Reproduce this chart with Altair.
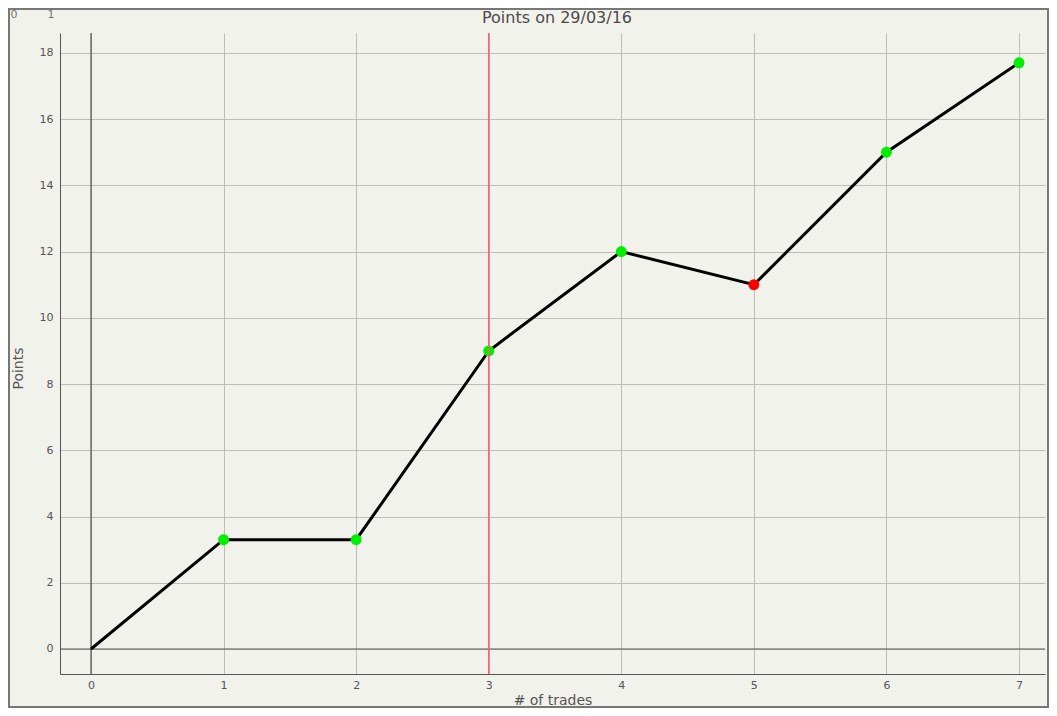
import altair as alt
import pandas as pd

trades = [0, 1, 2, 3, 4, 5, 6, 7]
points = [0, 3.3, 3.3, 9, 12, 11, 15, 17.7]
results = ["start", "up", "up", "up", "up", "down", "up", "up"]
marker_line = [3]
x_ticks = [0, 1, 2, 3, 4, 5, 6, 7]
y_ticks = [0, 2, 4, 6, 8, 10, 12, 14, 16, 18]
title_text = "Points on 29/03/16"
corner_labels = ["0", "1"]

df = pd.DataFrame({"trades": trades, "points": points, "result": results})
dots = df[df["result"] != "start"]

FONT = "DejaVu Sans"
GREY = "#555555"

xs = alt.Scale(domain=[-0.234, 7.196], nice=False, zero=False)
ys = alt.Scale(domain=[-0.755, 18.6], nice=False, zero=False)

x_axis = alt.Axis(values=x_ticks, format="d", title="# of trades", grid=True, gridColor="#bdbdb5",
                  ticks=False, domainColor=GREY, labelColor=GREY, labelFontSize=11,
                  labelPadding=5, titleFontSize=14, titleColor=GREY, titleFontWeight="normal",
                  titlePadding=3, labelFont=FONT, titleFont=FONT)
y_axis = alt.Axis(values=y_ticks, format="d", title="Points", grid=True, gridColor="#bdbdb5",
                  ticks=False, domainColor=GREY, labelColor=GREY, labelFontSize=11,
                  labelPadding=7, titleFontSize=14, titleColor=GREY, titleFontWeight="normal",
                  titlePadding=14, titleY=335, labelFont=FONT, titleFont=FONT)

base = alt.Chart(df)

grid = base.mark_point(opacity=0).encode(
    x=alt.X("trades:Q", scale=xs, axis=x_axis),
    y=alt.Y("points:Q", scale=ys, axis=y_axis),
)

zero_h = alt.Chart(pd.DataFrame({"v": [0]})).mark_rule(color=GREY, strokeWidth=1).encode(
    y=alt.Y("v:Q", scale=ys))
zero_v = alt.Chart(pd.DataFrame({"v": [0]})).mark_rule(color="#333333", strokeWidth=1).encode(
    x=alt.X("v:Q", scale=xs))

line = base.mark_line(color="black", strokeWidth=3).encode(
    x=alt.X("trades:Q", scale=xs), y=alt.Y("points:Q", scale=ys))

pts = alt.Chart(dots).mark_circle(size=120, opacity=1).encode(
    x=alt.X("trades:Q", scale=xs), y=alt.Y("points:Q", scale=ys),
    color=alt.Color("result:N", scale=alt.Scale(domain=["up", "down"], range=["#00ee00", "#ff0000"]),
                    legend=None))

red = alt.Chart(pd.DataFrame({"v": marker_line})).mark_rule(color="#ff6070", strokeWidth=1.5).encode(
    x=alt.X("v:Q", scale=xs))

border = alt.Chart(pd.DataFrame({"a": [0]})).mark_rect(
    fill=None, stroke="#777777", strokeWidth=2).encode(
    x=alt.value(-51), x2=alt.value(988), y=alt.value(-24), y2=alt.value(674))

title = alt.Chart(pd.DataFrame({"t": [title_text]})).mark_text(
    fontSize=16, color="#4a4a4a", font=FONT, align="center", baseline="middle").encode(
    text="t:N", x=alt.value(497), y=alt.value(-15))

corner = alt.Chart(pd.DataFrame({"t": corner_labels, "px": [-46, -9]})).mark_text(
    fontSize=11, color="#777777", font=FONT, align="center", baseline="top").encode(
    text="t:N", x=alt.X("px:Q", scale=None), y=alt.value(-24))

chart = alt.layer(grid, zero_h, zero_v, line, pts, red, border, title, corner).properties(
    width=985, height=641,
    autosize=alt.AutoSizeParams(type="none"),
    padding={"left": 52, "top": 25, "right": 4, "bottom": 34},
    background="#f2f2ec",
).configure_view(stroke=None)

chart.save("out.html", embed_options={"renderer": "svg", "actions": False})
